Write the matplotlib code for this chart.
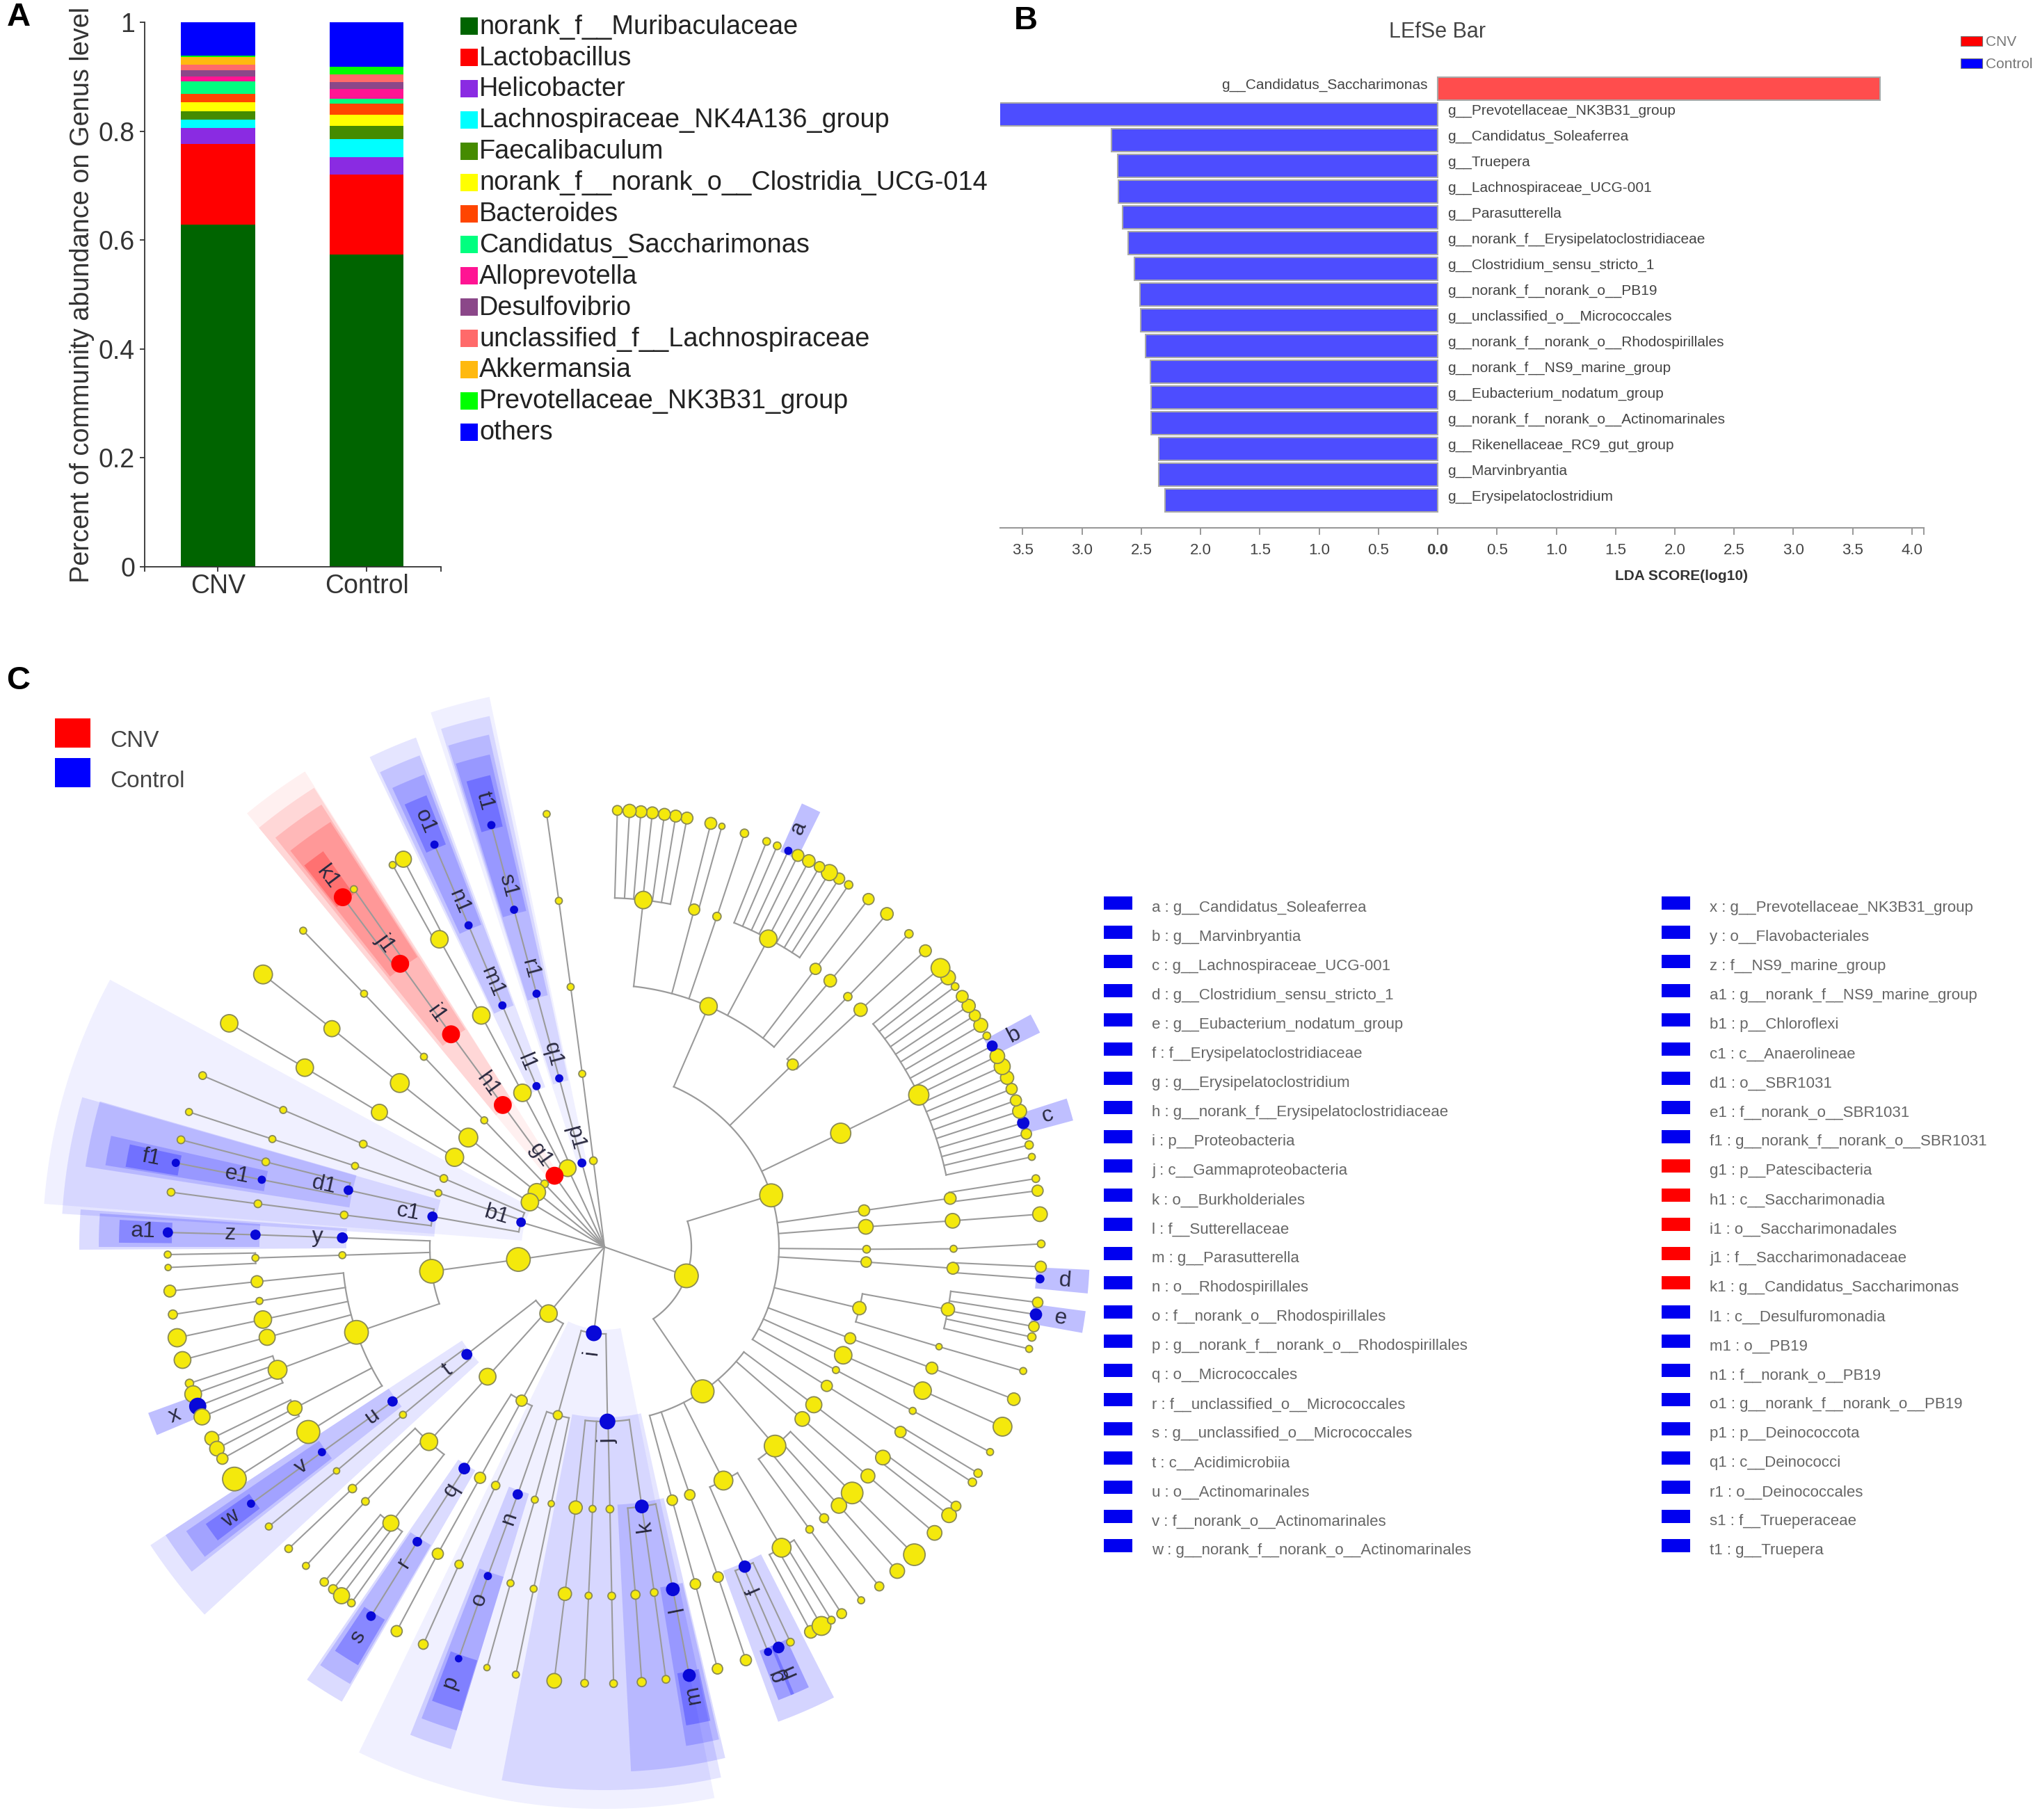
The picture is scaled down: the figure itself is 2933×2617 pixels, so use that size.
#!/usr/bin/env python3
"""Genus composition bars, LEfSe bars and LEfSe cladogram (panels A, B, C)."""
import numpy as np
import matplotlib
matplotlib.use("Agg")
import matplotlib.pyplot as plt
from matplotlib.patches import Rectangle

W, H = 2933, 2617
plt.rcParams["font.family"] = ["Liberation Sans", "DejaVu Sans"]

# --- panel A ---
GROUPS = ["CNV", "Control"]
GENERA = ["norank_f__Muribaculaceae", "Lactobacillus", "Helicobacter",
          "Lachnospiraceae_NK4A136_group", "Faecalibaculum",
          "norank_f__norank_o__Clostridia_UCG-014", "Bacteroides",
          "Candidatus_Saccharimonas", "Alloprevotella", "Desulfovibrio",
          "unclassified_f__Lachnospiraceae", "Akkermansia",
          "Prevotellaceae_NK3B31_group", "others"]
GENUS_COLORS = ["#006400", "#FF0000", "#8A2BE2", "#00FFFF", "#458B00", "#FFFF00",
                "#FF4500", "#00FF7F", "#FF1493", "#8B4789", "#FF6A6A", "#FFB90F",
                "#00FF00", "#0000FF"]
CNV_SHARE = [0.628, 0.149, 0.029, 0.0155, 0.0145, 0.017, 0.015, 0.024, 0.008,
             0.012, 0.0106, 0.0134, 0.003, 0.061]
CONTROL_SHARE = [0.573, 0.147, 0.032, 0.033, 0.025, 0.020, 0.020, 0.0095, 0.0185,
                 0.0116, 0.0151, 0.0, 0.0133, 0.082]

# --- panel B ---
LDA_NAMES = ["g__Candidatus_Saccharimonas", "g__Prevotellaceae_NK3B31_group",
             "g__Candidatus_Soleaferrea", "g__Truepera", "g__Lachnospiraceae_UCG-001",
             "g__Parasutterella", "g__norank_f__Erysipelatoclostridiaceae",
             "g__Clostridium_sensu_stricto_1", "g__norank_f__norank_o__PB19",
             "g__unclassified_o__Micrococcales", "g__norank_f__norank_o__Rhodospirillales",
             "g__norank_f__NS9_marine_group", "g__Eubacterium_nodatum_group",
             "g__norank_f__norank_o__Actinomarinales", "g__Rikenellaceae_RC9_gut_group",
             "g__Marvinbryantia", "g__Erysipelatoclostridium"]
LDA_SCORES = [3.73, -3.70, -2.75, -2.70, -2.695, -2.66, -2.61, -2.56, -2.51, -2.505,
              -2.465, -2.425, -2.42, -2.415, -2.355, -2.35, -2.30]
LDA_TICKS = [-3.5, -3.0, -2.5, -2.0, -1.5, -1.0, -0.5, 0.0, 0.5, 1.0, 1.5, 2.0, 2.5,
             3.0, 3.5, 4.0]

# --- panel C: tree, level by level. Angles are clockwise from north, going
# counter-clockwise round from -7 to -358; parents index the level above. ---
LEVEL_R = [125, 251, 377, 502, 628]
LEVEL_OUTER = [808, 781, 755, 727, 698]
LEVEL_ALPHA = [0.06, 0.10, 0.14, 0.17, 0.25]

PHYLUM_ANGLE = [-7.3, -15, -25, -35, -43.5, -51, -59, -73.5, -98.3, -140, -173, -250.6]
PHYLUM_SIZE = [10, 10, 23, 23, 10, 24, 24, 11, 33, 24, 20, 33]

CLASS_ANGLE = [-7.3, -15, -22.9, -28, -35.6, -43.5, -51.2, -59.1, -66.9, -72, -80, -98,
               -128, -138, -151.7, -164.5, -181, -214.2, -287.2]
CLASS_PARENT = [0, 1, 2, 2, 3, 4, 5, 6, 7, 7, 7, 8, 9, 9, 9, 10, 10, 11, 11]
CLASS_SIZE = [9, 9, 9, 24, 23, 9, 26, 25, 10, 9, 12, 33, 13, 23, 15, 12, 20, 32, 32]

ORDER_ANGLE = [-7.4, -15, -22.9, -28, -35.8, -43.5, -51.3, -59.1, -66.9, -72, -77.5, -83,
               -88, -91.8, -109, -126.1, -129.8, -138, -147.7, -151.7, -155.5, -160.7,
               -164.6, -168.3, -173.7, -177.4, -181.2, -188.2, -195, -199, -207, -220.6,
               -229, -233, -238, -242, -245.6, -249.6, -256.5, -266.7, -269.5, -274.4,
               -278, -295.7, -314.1, -336.6]
ORDER_PARENT = [0, 1, 2, 3, 4, 5, 6, 7, 8, 9, 10, 10, 11, 11, 11, 12, 12, 13, 14, 14, 14,
                15, 15, 15, 16, 16, 16, 16, 17, 17, 17, 17, 17, 17, 18, 18, 18, 18, 18,
                18, 18, 18, 18, 18, 18, 18]
ORDER_SIZE = [9, 9, 9, 24, 23, 9, 26, 22, 10, 9, 11, 10, 13, 9, 33, 12, 9, 24, 14, 15, 11,
              12, 9, 8, 18, 9, 10, 17, 14, 14, 26, 30, 20, 22, 15, 9, 24, 15, 18, 14, 10,
              20, 15, 28, 15, 24]

FAMILY_ANGLE = [-7.5, -15, -22.9, -28.2, -35.8, -43.5, -51.3, -59.1, -66.9, -72, -75.9,
                -78.9, -82.9, -88, -91.8, -95.7, -98.9, -102, -105, -110.6, -117.5, -122,
                -126, -129.9, -133.8, -136.8, -142.3, -147.6, -151.5, -155.4, -160.5,
                -164.4, -168.3, -173.5, -177.4, -181.2, -185.1, -188.2, -191.3, -195.1,
                -199, -203.7, -210.5, -216, -219, -222.2, -225.2, -229, -232.9, -238,
                -242, -245.7, -249.7, -253.4, -259.7, -266.5, -269.7, -274.3, -278,
                -295.8, -312.8, -315.8, -319.7, -322.8, -332, -341.2, -345.1, -353.6]
FAMILY_PARENT = [0, 1, 2, 3, 4, 5, 6, 7, 8, 9, 10, 10, 11, 12, 13, 14, 14, 14, 14, 14, 14,
                 14, 15, 16, 17, 17, 17, 18, 19, 20, 21, 22, 23, 24, 25, 26, 27, 27, 27,
                 28, 29, 30, 30, 31, 31, 31, 31, 32, 33, 34, 35, 36, 37, 38, 38, 39, 40,
                 41, 42, 43, 44, 44, 45, 45, 45, 45, 45, 45]
FAMILY_SIZE = [9, 9, 9, 24, 23, 9, 22, 24, 9, 9, 10, 9, 10, 12, 9, 16, 9, 24, 22, 26, 20,
               32, 9, 8, 11, 10, 22, 11, 15, 11, 9, 9, 9, 18, 9, 10, 12, 10, 17, 14, 14,
               15, 26, 10, 12, 21, 30, 19, 20, 15, 9, 24, 16, 8, 18, 16, 9, 20, 16, 28,
               18, 11, 17, 15, 24, 11, 15, 24]

GENUS_ANGLE = [-7.6, -15, -22.9, -27.4, -29, -36.8, -35, -43.6, -51.4, -59.2, -66.9, -72,
               -75.8, -78.9, -82.8, -88.1, -91, -92.7, -95.8, -98.9, -102, -105, -108.2,
               -109.7, -111.4, -112.9, -116, -117.5, -119, -122.1, -126, -129.8, -133.7,
               -136.9, -140.1, -141.6, -143, -144.6, -147.7, -151.6, -155.5, -160.5,
               -164.4, -168.3, -173.4, -177.4, -181.2, -184.9, -188.1, -191.2, -195,
               -198.9, -202, -203.5, -205.2, -208.2, -209.8, -211.3, -212.9, -216, -219,
               -222.1, -225.2, -229.1, -232.1, -233.6, -237.4, -238.8, -242, -245.7,
               -249.6, -253.5, -256.5, -258.1, -259.5, -261.1, -262.7, -265.8, -267.4,
               -270.4, -274.3, -277.4, -279, -281.9, -283.5, -285, -286.5, -288.1,
               -289.6, -291.2, -292.8, -294.4, -295.9, -297.4, -298.9, -300.5, -302,
               -303.5, -305, -306.6, -308.1, -309.7, -312.7, -315.8, -319.7, -322.8,
               -326, -327.5, -329, -330.5, -332.1, -333.7, -335.1, -336.7, -338.2,
               -341.3, -344.4, -345.9, -349.1, -350.6, -352.1, -353.7, -355.2, -356.7,
               -358.3]
GENUS_PARENT = [0, 1, 2, 3, 3, 4, 4, 5, 6, 7, 8, 9, 10, 11, 12, 13, 14, 14, 15, 16, 17,
                18, 19, 19, 19, 19, 20, 20, 20, 21, 22, 23, 24, 25, 26, 26, 26, 26, 27,
                28, 29, 30, 31, 32, 33, 34, 35, 36, 37, 38, 39, 40, 41, 41, 41, 42, 42,
                42, 42, 43, 44, 45, 46, 47, 48, 48, 49, 49, 50, 51, 52, 53, 54, 54, 54,
                54, 54, 55, 55, 56, 57, 58, 58, 59, 59, 59, 59, 59, 59, 59, 59, 59, 59,
                59, 59, 59, 59, 59, 59, 59, 59, 59, 60, 61, 62, 63, 64, 64, 64, 64, 64,
                64, 64, 64, 64, 65, 66, 66, 67, 67, 67, 67, 67, 67, 67]
GENUS_SIZE = [9, 9, 9, 22, 9, 23, 9, 9, 26, 24, 10, 9, 10, 9, 10, 12, 9, 8, 16, 12, 25, 23,
              11, 23, 22, 22, 19, 20, 15, 33, 9, 9, 10, 9, 11, 12, 22, 10, 11, 15, 13, 8,
              8, 9, 20, 10, 10, 12, 10, 16, 14, 15, 9, 14, 10, 17, 26, 10, 13, 9, 12, 20,
              30, 20, 20, 13, 11, 11, 9, 26, 17, 9, 9, 11, 14, 15, 14, 10, 15, 10, 20, 15,
              10, 9, 11, 14, 15, 19, 15, 15, 18, 22, 20, 13, 10, 19, 15, 18, 16, 10, 20,
              26, 16, 11, 17, 15, 11, 15, 22, 14, 17, 16, 9, 10, 10, 11, 8, 16, 16, 16, 16,
              16, 16, 18, 13]

# biomarker labels: taxonomic level, node index in that level, wedge angles
MARK_LABELS = ["a", "b", "c", "d", "e", "f", "g", "h", "i", "j", "k", "l", "m", "n", "o",
               "p", "q", "r", "s", "t", "u", "v", "w", "x", "y", "z", "a1", "b1", "c1",
               "d1", "e1", "f1", "g1", "h1", "i1", "j1", "k1", "l1", "m1", "n1", "o1",
               "p1", "q1", "r1", "s1", "t1"]
MARK_LEVEL = [4, 4, 4, 4, 4, 3, 4, 4, 0, 1, 2, 3, 4, 2, 3, 4, 2, 3, 4, 1, 2, 3, 4, 4, 2, 3,
              4, 0, 1, 2, 3, 4, 0, 1, 2, 3, 4, 1, 2, 3, 4, 0, 1, 2, 3, 4]
MARK_NODE = [112, 93, 86, 77, 75, 41, 52, 53, 10, 16, 27, 38, 49, 21, 30, 41, 18, 27, 38,
             12, 15, 22, 30, 24, 12, 13, 15, 7, 10, 10, 11, 13, 3, 4, 4, 4, 5, 2, 2, 2, 2,
             1, 1, 1, 1, 1]
MARK_LO = [-336.0, -298.6, -287.8, -267.3, -262.4, -207, -203, -204.9, -191.3, -192.4,
           -193.3, -193.1, -192.6, -163, -163, -162.9, -150, -149.8, -149.5, -132.6,
           -128.2, -127.8, -127.2, -112.8, -90.3, -90, -89.5, -85.6, -86.5, -81.2, -80.7,
           -80.5, -39.5, -39.5, -38.8, -38.4, -38.2, -25.6, -25.3, -24.8, -24.3, -18,
           -17.5, -17.3, -17.1, -16.5]
MARK_HI = [-333.6, -296.2, -285.1, -264.5, -259.8, -200.1, -201, -202.6, -154.1, -169.1,
           -182.9, -189.3, -189.7, -158.3, -158.8, -159.2, -145.5, -145.8, -146.3, -123.3,
           -123.3, -124.2, -124.8, -110, -85.9, -86.2, -86.8, -61.6, -74, -73.9, -77.3,
           -77.8, -32.2, -32.3, -32.6, -32.8, -35.4, -20.3, -20.6, -20.9, -21.5, -11.8,
           -12.2, -12.7, -13.1, -13.6]
RED_LABELS = ["g1", "h1", "i1", "j1", "k1"]

KEY_LEFT = ["a : g__Candidatus_Soleaferrea", "b : g__Marvinbryantia",
            "c : g__Lachnospiraceae_UCG-001", "d : g__Clostridium_sensu_stricto_1",
            "e : g__Eubacterium_nodatum_group", "f : f__Erysipelatoclostridiaceae",
            "g : g__Erysipelatoclostridium", "h : g__norank_f__Erysipelatoclostridiaceae",
            "i : p__Proteobacteria", "j : c__Gammaproteobacteria", "k : o__Burkholderiales",
            "l : f__Sutterellaceae", "m : g__Parasutterella", "n : o__Rhodospirillales",
            "o : f__norank_o__Rhodospirillales", "p : g__norank_f__norank_o__Rhodospirillales",
            "q : o__Micrococcales", "r : f__unclassified_o__Micrococcales",
            "s : g__unclassified_o__Micrococcales", "t : c__Acidimicrobiia",
            "u : o__Actinomarinales", "v : f__norank_o__Actinomarinales",
            "w : g__norank_f__norank_o__Actinomarinales"]
KEY_RIGHT = ["x : g__Prevotellaceae_NK3B31_group", "y : o__Flavobacteriales",
             "z : f__NS9_marine_group", "a1 : g__norank_f__NS9_marine_group",
             "b1 : p__Chloroflexi", "c1 : c__Anaerolineae", "d1 : o__SBR1031",
             "e1 : f__norank_o__SBR1031", "f1 : g__norank_f__norank_o__SBR1031",
             "g1 : p__Patescibacteria", "h1 : c__Saccharimonadia", "i1 : o__Saccharimonadales",
             "j1 : f__Saccharimonadaceae", "k1 : g__Candidatus_Saccharimonas",
             "l1 : c__Desulfuromonadia", "m1 : o__PB19", "n1 : f__norank_o__PB19",
             "o1 : g__norank_f__norank_o__PB19", "p1 : p__Deinococcota", "q1 : c__Deinococci",
             "r1 : o__Deinococcales", "s1 : f__Trueperaceae", "t1 : g__Truepera"]

BLUE, RED = "#0000FF", "#FF0000"
LINE = "#9a9a9a"


def px_axes(fig, left, top, right, bottom, **kw):
    """axes placed by pixel box of the full figure"""
    return fig.add_axes([left / W, 1 - bottom / H, (right - left) / W, (bottom - top) / H], **kw)


def draw_stack(ax):
    shares = np.array([CNV_SHARE, CONTROL_SHARE])
    base = np.zeros(2)
    for i, color in enumerate(GENUS_COLORS):
        ax.bar([0, 1], shares[:, i], 0.5, bottom=base, color=color, linewidth=0)
        base += shares[:, i]
    ax.set_xlim(-0.494, 1.501)
    ax.set_ylim(0, 1)
    ax.set_xticks([0, 1], GROUPS, fontsize=27, color="#333333")
    ax.set_xticks([-0.494, 1.501], minor=True)
    ax.set_yticks([0, 0.2, 0.4, 0.6, 0.8, 1], ["0", "0.2", "0.4", "0.6", "0.8", "1"],
                  fontsize=27, color="#333333")
    ax.tick_params(axis="y", which="both", length=5, width=1.3, color="#333333", pad=5)
    ax.tick_params(axis="x", which="both", length=5, width=1.3, color="#333333", pad=2.5)
    ax.set_ylabel("Percent of community abundance on Genus level", fontsize=27.3, color="#333333")
    ax.yaxis.set_label_coords(-0.168, 0.5)
    for sp in ("top", "right"):
        ax.spines[sp].set_visible(False)
    for sp in ("left", "bottom"):
        ax.spines[sp].set_linewidth(1.3)
        ax.spines[sp].set_color("#333333")


def draw_lda(ax):
    rows = np.arange(len(LDA_SCORES))
    colors = ["#FF4D4D" if s > 0 else "#4D4DFF" for s in LDA_SCORES]
    ax.barh(rows, LDA_SCORES, height=0.9, color=colors, edgecolor="#a8a8a8", linewidth=1.5)
    for row, name, score in zip(rows, LDA_NAMES, LDA_SCORES):
        if score > 0:
            ax.text(-0.082, row - 0.13, name, ha="right", va="center", fontsize=15, color="#444444")
        else:
            ax.text(0.085, row - 0.13, name, ha="left", va="center", fontsize=15, color="#444444")
    ax.set_xlim(-3.69, 4.10)
    ax.set_ylim(17.07, -1.01)
    ax.set_yticks([])
    ax.set_xticks(LDA_TICKS, [f"{abs(t):.1f}" for t in LDA_TICKS], fontsize=16, color="#444444")
    ax.set_xticks([4.10], minor=True)
    ax.tick_params(axis="x", which="both", length=7, width=1.2, color="#888888", pad=9)
    ax.get_xticklabels()[7].set_fontweight("bold")
    for sp in ("top", "right", "left"):
        ax.spines[sp].set_visible(False)
    ax.spines["bottom"].set_linewidth(1.5)
    ax.spines["bottom"].set_color("#999999")


def arc_theta(a0, a1):
    return np.radians(np.linspace(a0, a1, 60) + 360)


def draw_links(ax, parent_angle, parent_r, angle, parent, r):
    """arc along the parent's ring to each child's angle, then out to the child"""
    parent = np.array(parent)
    angle = np.array(angle)
    for p in set(parent):
        kids = angle[parent == p]
        if len(kids) == 1:
            ax.plot(np.radians([parent_angle[p] + 360, kids[0] + 360]), [parent_r, r],
                    color=LINE, lw=1.5, zorder=2)
            continue
        lo = min(kids.min(), parent_angle[p])
        hi = max(kids.max(), parent_angle[p])
        ax.plot(arc_theta(lo, hi), [parent_r] * 60, color=LINE, lw=1.6, zorder=2)
        for kid in kids:
            ax.plot(np.radians([kid + 360, kid + 360]), [parent_r, r], color=LINE, lw=1.5, zorder=2)


def draw_clado(ax):
    angles = [PHYLUM_ANGLE, CLASS_ANGLE, ORDER_ANGLE, FAMILY_ANGLE, GENUS_ANGLE]
    parents = [None, CLASS_PARENT, ORDER_PARENT, FAMILY_PARENT, GENUS_PARENT]
    sizes = [PHYLUM_SIZE, CLASS_SIZE, ORDER_SIZE, FAMILY_SIZE, GENUS_SIZE]

    # background wedges, outermost levels first
    for level in range(5):
        for lab, lv, lo, hi in zip(MARK_LABELS, MARK_LEVEL, MARK_LO, MARK_HI):
            if lv != level:
                continue
            th = arc_theta(lo, hi)
            thetas = np.r_[th, th[::-1]]
            radii = np.r_[[LEVEL_OUTER[lv]] * 60, [LEVEL_R[lv] - 6] * 60]
            ax.fill(thetas, radii, color=RED if lab in RED_LABELS else BLUE,
                    alpha=LEVEL_ALPHA[lv], lw=0, zorder=1)

    # spokes from the root and the tree links
    for a in PHYLUM_ANGLE:
        ax.plot(np.radians([a + 360, a + 360]), [0, LEVEL_R[0]], color=LINE, lw=1.5, zorder=2)
    for level in range(1, 5):
        draw_links(ax, angles[level - 1], LEVEL_R[level - 1], angles[level], parents[level],
                   LEVEL_R[level])

    # nodes
    face = {(lv, n): (RED if lab in RED_LABELS else "#0808D8")
            for lab, lv, n in zip(MARK_LABELS, MARK_LEVEL, MARK_NODE)}
    for level in range(5):
        th = np.radians(np.array(angles[level]) + 360)
        s = ((np.array(sizes[level]) + 1) * 0.72) ** 2
        colors = [face.get((level, i), "#F4E90C") for i in range(len(th))]
        edges = [c if (level, i) in face else "#8a8a55" for i, c in enumerate(colors)]
        ax.scatter(th, [LEVEL_R[level]] * len(th), s=s, c=colors, edgecolors=edges,
                   linewidths=1.3, zorder=3)

    # letters sit just outside their node, along the radius
    for lab, lv, n in zip(MARK_LABELS, MARK_LEVEL, MARK_NODE):
        a = angles[lv][n]
        rot = -90 - a if a > -230 else 90 - (a + 360)
        gap = 28 if -195 < a < -170 else 36
        ax.text(np.radians(a + 360), LEVEL_R[lv] + gap, lab, rotation=rot, rotation_mode="anchor",
                ha="center", va="center", fontsize=23, color="#2a2a40", zorder=4)

    ax.set_ylim(0, 820)
    ax.axis("off")


def draw_overlay(ax):
    ax.set_xlim(0, W)
    ax.set_ylim(H, 0)
    ax.axis("off")

    # panel letters
    for text, x, y in [("A", 10, 25), ("B", 1458, 30), ("C", 9, 979)]:
        ax.text(x, y, text, fontsize=34, fontweight="bold", va="center", color="black")

    # panel A legend
    for i, (name, color) in enumerate(zip(GENERA, GENUS_COLORS)):
        y = 37.6 + 44.9 * i
        ax.add_patch(Rectangle((662, y - 12.5), 25, 25, color=color, lw=0))
        ax.text(689, y + 1, name, fontsize=27.3, va="center", color="#222222")

    # panel B title, axis title, legend
    ax.text(2067, 46, "LEfSe Bar", fontsize=22, ha="center", va="center", color="#444444")
    ax.text(2417, 829, "LDA SCORE(log10)", fontsize=15, fontweight="bold", ha="center",
            va="center", color="#333333")
    for y, color, name in [(59, RED, "CNV"), (91, BLUE, "Control")]:
        ax.add_patch(Rectangle((2819, y - 7), 31, 14, facecolor=color, edgecolor="#777777", lw=0.8))
        ax.text(2855, y + 2, name, fontsize=15, va="center", color="#777777")

    # panel C legend
    for y, color, name in [(1054, RED, "CNV"), (1111, BLUE, "Control")]:
        ax.add_patch(Rectangle((79, y - 21), 51, 42, color=color, lw=0))
        ax.text(158, y + 12, name, fontsize=24, va="center", color="#444444")

    # panel C key
    for x_box, x_text, keys in [(1587, 1656, KEY_LEFT), (2389, 2458, KEY_RIGHT)]:
        for i, key in enumerate(keys):
            y = 1298 + 42 * i
            color = RED if key.split(" : ")[0] in RED_LABELS else "#0000F0"
            ax.add_patch(Rectangle((x_box, y - 9.5), 41, 19, color=color, lw=0))
            ax.text(x_text, y + 8, key, fontsize=16, va="center", color="#666666")


def main():
    fig = plt.figure(figsize=(W / 100, H / 100), dpi=100)
    draw_stack(px_axes(fig, 208, 32, 634, 815))
    draw_lda(px_axes(fig, 1438, 90, 2766, 759))

    clado = px_axes(fig, 869 - 820, 1793 - 820, 869 + 820, 1793 + 820, projection="polar")
    clado.set_theta_zero_location("N")
    clado.set_theta_direction(-1)
    draw_clado(clado)

    over = fig.add_axes([0, 0, 1, 1], facecolor="none")
    draw_overlay(over)

    fig.savefig("out.png", dpi=100)


if __name__ == "__main__":
    main()
